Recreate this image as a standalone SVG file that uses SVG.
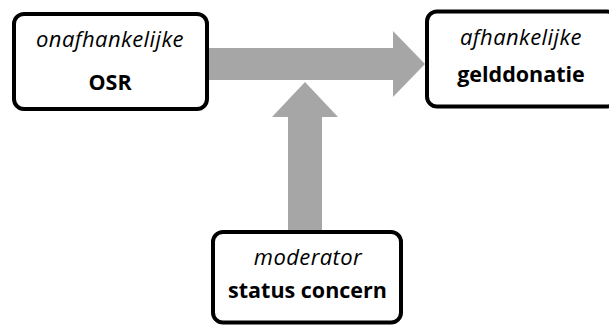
<svg xmlns="http://www.w3.org/2000/svg" width="609" height="327" viewBox="0 0 609 327">
  <style>
    .box { fill: #ffffff; stroke: #000000; stroke-width: 4; }
    .arrow { fill: #a6a6a6; stroke: none; }
    text { font-family: "Open Sans", "Noto Sans", sans-serif; fill: #000000; text-anchor: middle; }
    .role { font-style: italic; font-size: 22px; letter-spacing: 0.4px; }
    .name { font-weight: bold; font-size: 21.5px; }
  </style>
  <rect width="609" height="327" fill="#ffffff"/>
  <g id="connectors">
    <!-- OSR -> gelddonatie -->
    <polygon class="arrow" points="207,48 393,48 393,31 425,64 393,97 393,80 207,80"/>
    <!-- status concern moderates the main path -->
    <polygon class="arrow" points="288,232 288,117 272,117 305,82 338,117 322,117 322,232"/>
  </g>
  <g id="node-osr">
    <rect class="box" x="14" y="14" width="193" height="95" rx="10"/>
    <text class="role" x="110" y="47">onafhankelijke</text>
    <text class="name" x="110" y="90">OSR</text>
  </g>
  <g id="node-gelddonatie">
    <rect class="box" x="427" y="11.5" width="190" height="95" rx="10"/>
    <text class="role" x="521" y="45">afhankelijke</text>
    <text class="name" x="521" y="82">gelddonatie</text>
  </g>
  <g id="node-status">
    <rect class="box" x="213" y="232" width="188" height="90.5" rx="10"/>
    <text class="role" x="308" y="265">moderator</text>
    <text class="name" x="307.5" y="298">status concern</text>
  </g>
</svg>
